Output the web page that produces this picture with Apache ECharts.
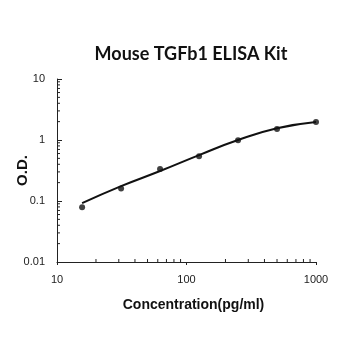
<!DOCTYPE html>
<html><head><meta charset="utf-8">
<script src="https://cdn.jsdelivr.net/npm/echarts@6/dist/echarts.min.js"></script>
<style>html,body{margin:0;padding:0;background:#fff}#c{width:350px;height:350px}</style>
</head><body><div id="c"></div>
<script>
const concentrations = [15.625, 31.25, 62.5, 125, 250, 500, 1000];
const odValues = [0.079, 0.16, 0.336, 0.544, 0.99, 1.52, 1.98];
const fitCurve = [0.092, 0.175, 0.31, 0.566, 1.0, 1.56, 1.98];
const xTickLabels = [10, 100, 1000];
const yTickLabels = [0.01, 0.1, 1, 10];
const minorMultipliers = [2, 3, 4, 5, 6, 7, 8, 9];

const xMinor = [];
[10, 100].forEach(d => minorMultipliers.forEach(m => xMinor.push(d * m)));
const yMinor = [];
[0.01, 0.1, 1].forEach(d => minorMultipliers.forEach(m => yMinor.push(+(d * m).toPrecision(3))));

const chart = echarts.init(document.getElementById('c'));
chart.setOption({
  animation: false,
  title: {
    text: 'Mouse TGFb1 ELISA Kit', left: 186, top: 40, textAlign: 'center',
    textStyle: { fontFamily: 'Lato', fontWeight: 'bold', fontSize: 18, color: '#111' }
  },
  grid: { left: 57, right: 34, top: 79, bottom: 88, containLabel: false, outerBoundsMode: 'none' },
  xAxis: {
    type: 'log', logBase: 10, min: 10, max: 1000,
    name: 'Concentration(pg/ml)', nameLocation: 'middle', nameGap: 36, nameMoveOverlap: false,
    nameTextStyle: { fontFamily: 'Liberation Sans', fontWeight: 'bold', fontSize: 14, color: '#111', padding: [0, 0, 0, 14] },
    axisLine: { lineStyle: { color: '#222', width: 1 } },
    axisTick: { show: true, inside: false, length: 3, lineStyle: { color: '#222' } },
    axisLabel: { fontFamily: 'Liberation Sans', fontSize: 11, color: '#222', margin: 12,
      formatter: v => String(v) },
    splitLine: { show: false }
  },
  yAxis: {
    type: 'log', logBase: 10, min: 0.01, max: 10,
    name: 'O.D.', nameLocation: 'middle', nameGap: 27, nameRotate: 90, nameMoveOverlap: false,
    nameTextStyle: { fontFamily: 'Liberation Sans', fontWeight: 'bold', fontSize: 15, color: '#111' },
    axisLine: { show: true, lineStyle: { color: '#222', width: 1 } },
    axisTick: { show: true, inside: true, length: 5, lineStyle: { color: '#222' } },
    axisLabel: { fontFamily: 'Liberation Sans', fontSize: 11, color: '#222', margin: 12,
      formatter: v => String(+v.toPrecision(3)) },
    splitLine: { show: false }
  },
  series: [
    {
      type: 'custom', silent: true, clip: false,
      data: xMinor.map(v => [v]),
      renderItem: (params, api) => {
        const p = api.coord([api.value(0), 0.01]);
        return { type: 'line', shape: { x1: p[0], y1: p[1], x2: p[0], y2: p[1] - 3 }, style: { stroke: '#222', lineWidth: 1 } };
      }
    },
    {
      type: 'custom', silent: true, clip: false,
      data: yMinor.map(v => [v]),
      renderItem: (params, api) => {
        const p = api.coord([10, api.value(0)]);
        return { type: 'line', shape: { x1: p[0], y1: p[1], x2: p[0] + 3, y2: p[1] }, style: { stroke: '#222', lineWidth: 1 } };
      },
      encode: { x: -1, y: 0 }
    },
    {
      type: 'line', smooth: true, showSymbol: false,
      data: concentrations.map((c, i) => [c, fitCurve[i]]),
      lineStyle: { color: '#111', width: 2 }
    },
    {
      type: 'scatter', symbol: 'circle', symbolSize: 6,
      data: concentrations.map((c, i) => [c, odValues[i]]),
      itemStyle: { color: '#111' }
    }
  ]
});
</script></body></html>
